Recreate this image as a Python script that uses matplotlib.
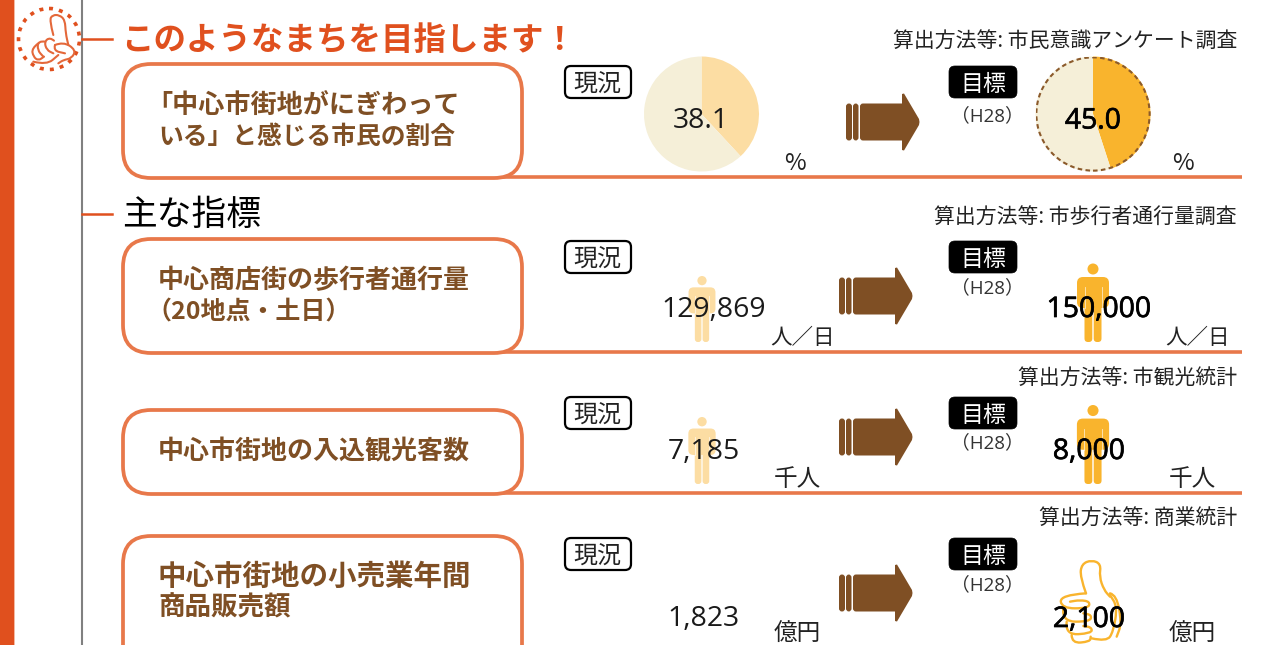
import matplotlib
matplotlib.use('Agg')
import matplotlib.pyplot as plt
import matplotlib.patheffects as pe
from matplotlib.patches import FancyBboxPatch, Circle, PathPatch, Rectangle
from matplotlib.path import Path

plt.rcParams['font.family'] = ['Noto Sans CJK JP', 'DejaVu Sans']
NUM_FONT = ['Open Sans', 'Noto Sans CJK JP']

# -----------------------------
# Data
# -----------------------------
main_title = 'このようなまちを目指します！'
sub_title = '主な指標'
row_lines = [['「中心市街地がにぎわって', 'いる」と感じる市民の割合'],
             ['中心商店街の歩行者通行量', '（20地点・土日）'],
             ['中心市街地の入込観光客数'],
             ['中心市街地の小売業年間', '商品販売額']]
methods = ['算出方法等: 市民意識アンケート調査',
           '算出方法等: 市歩行者通行量調査',
           '算出方法等: 市観光統計',
           '算出方法等: 商業統計']
current_values = ['38.1', '129,869', '7,185', '1,823']
target_values = ['45.0', '150,000', '8,000', '2,100']
units = ['%', '人／日', '千人', '億円']
pie_current = [38.1, 61.9]
pie_target = [45.0, 55.0]

ORANGE = '#E0501E'
BOX = '#E8784A'
BROWN = '#7F4F24'
LIGHT = '#FCDDA3'
AMBER = '#F9B42D'
CREAM = '#F5EFD8'

W, H = 1262, 645
fig = plt.figure(figsize=(W / 100, H / 100), dpi=100)
ax = fig.add_axes([0, 0, 1, 1])
ax.set_xlim(0, W)
ax.set_ylim(H, 0)
ax.axis('off')


def smooth(points, color, lw, x0=0, y0=0, zorder=3):
    # quadratic curves through the midpoints, points are in 3x zoom units
    p = [(x0 + a / 3, y0 + b / 3) for a, b in points]
    verts = [p[0]]
    codes = [Path.MOVETO]
    for i in range(1, len(p) - 1):
        mid = ((p[i][0] + p[i + 1][0]) / 2, (p[i][1] + p[i + 1][1]) / 2)
        verts += [p[i], mid]
        codes += [Path.CURVE3, Path.CURVE3]
    verts.append(p[-1])
    codes.append(Path.LINETO)
    ax.add_patch(PathPatch(Path(verts, codes), fc='none', ec=color, lw=lw,
                           capstyle='round', joinstyle='round', zorder=zorder))


def round_box(x, y, w, h, r, fc, ec, lw, zorder=2):
    ax.add_patch(FancyBboxPatch((x, y), w, h, boxstyle=f'round,pad=0,rounding_size={r}',
                                fc=fc, ec=ec, lw=lw, zorder=zorder))


def arrow(x, yc):
    # three stacked bands and the head
    round_box(x, yc - 18.5, 6, 37, 3, BROWN, 'none', 0)
    round_box(x + 7, yc - 18.5, 5.5, 37, 3, BROWN, 'none', 0)
    round_box(x + 14, yc - 18.5, 45, 37, 3, BROWN, 'none', 0)
    head = [(x + 56, yc - 28), (x + 58, yc - 28.5), (x + 73, yc - 3), (x + 73.5, yc),
            (x + 73, yc + 3), (x + 58, yc + 28.5), (x + 56, yc + 28), (x + 56, yc - 28)]
    ax.fill([a for a, b in head], [b for a, b in head], color=BROWN, lw=0, zorder=2)


def person(xc, bottom, height, color):
    s = height / 78.5
    ax.add_patch(Circle((xc, bottom - 73 * s), 5.5 * s, fc=color, ec='none', zorder=2))
    round_box(xc - 16 * s, bottom - 65 * s, 32 * s, 31 * s, 6 * s, color, 'none', 0)
    for dx in (-8.5, 0.7):
        round_box(xc + dx * s, bottom - 50 * s, 7.8 * s, 50 * s, 3.5 * s, color, 'none', 0)
    for dx in (-8.5, 8.5):
        ax.plot([xc + dx * s, xc + dx * s], [bottom - 55 * s, bottom - 34 * s],
                color='white', lw=0.6, alpha=0.7, zorder=2)


def pie(xc, yc, r, values, colors):
    pa = fig.add_axes([(xc - r) / W, 1 - (yc + r) / H, 2 * r / W, 2 * r / H])
    pa.pie(values, colors=colors, startangle=90, counterclock=False, radius=1)
    pa.set_xlim(-1, 1)
    pa.set_ylim(-1, 1)
    pa.patch.set_alpha(0)
    return pa


heavy = [pe.withStroke(linewidth=0.5, foreground='black')]

# -----------------------------
# Frame and headings
# -----------------------------
ax.add_patch(Rectangle((0, 0), 14, H, fc=ORANGE, ec='none'))
ax.add_patch(Rectangle((14, 0), 1.2, H, fc='#F3B9A2', ec='none'))
ax.plot([82, 82], [0, H], color='#808080', lw=1.5)
ax.plot([82, 112], [39, 39], color=ORANGE, lw=1.8)
ax.plot([82, 112], [214, 214], color=ORANGE, lw=1.8)

ax.text(121, 40.5, main_title, fontsize=23.4, fontweight='bold', color=ORANGE, va='center')
ax.text(122, 215, sub_title, fontsize=25, color='black', va='center')

# pointing hand icon
ax.add_patch(Circle((49, 39), 30.5, fc='white', ec=ORANGE, lw=2.6,
                    ls=(0, (1.1, 1.7)), zorder=4))
for pts in ([(160, 105), (148, 60), (158, 45), (178, 45), (195, 60), (197, 100), (205, 135)],
            [(162, 122), (150, 112), (133, 125), (140, 150), (160, 160)],
            [(135, 125), (115, 122), (112, 150), (130, 170)],
            [(115, 130), (95, 145), (100, 170), (115, 182), (132, 170)],
            [(165, 135), (190, 125), (228, 150), (215, 175), (190, 180), (175, 190)],
            [(165, 135), (160, 152), (195, 160)],
            [(100, 185), (140, 195), (175, 165)]):
    smooth(pts, '#E4683A', 1.5, zorder=5)

# -----------------------------
# Rows
# -----------------------------
box_top = [64, 239, 410, 536]
box_h = [114, 114, 84, 140]
rule_y = [177, 352, 493, None]
method_y = [42, 218, 378, 518]
badge_y = [66, 241, 397, 538]
h28_y = [116, 288, 443, 585]
line_x = [[146, 158], [158, 146], [158], [158, 158]]
line_y = [[106, 137], [281, 312], [452], [577, 608]]
line_size = [[18.8, 17.8], [18.7, 18], [18.7], [20.5, 19.1]]
arrow_x = [846, 839, 839, 839]
arrow_y = [122, 296, 437, 593]
cur_xy = [None, (714, 310), (704, 452), (704, 619)]
tgt_xy = [None, (1099, 310), (1089, 452), (1089, 620)]
unit_cur_xy = [(795, 164), (803, 338), (797, 479), (797, 634)]
unit_tgt_xy = [(1183, 164), (1198, 338), (1192, 479), (1192, 634)]
unit_size = [17, 15.5, 17, 17]

for i in range(4):
    round_box(123, box_top[i], 399, box_h[i], 28, 'white', BOX, 2.7)
    if rule_y[i] is not None:
        ax.plot([495, 1242], [rule_y[i], rule_y[i]], color=BOX, lw=2.6, zorder=1, solid_capstyle='butt')
    for j, line in enumerate(row_lines[i]):
        ax.text(line_x[i][j], line_y[i][j], line, fontsize=line_size[i][j], fontweight='bold',
                color=BROWN, va='center', zorder=3)
    ax.text(1237, method_y[i], methods[i], fontsize=15, color='#222222', ha='right', va='center')

    round_box(565, badge_y[i], 66, 32, 6, 'white', 'black', 1.6)
    ax.text(597, badge_y[i] + 18.5, '現況', fontsize=17.3, color='#222222', ha='center', va='center', zorder=3)
    round_box(949, badge_y[i], 68, 32, 6, 'black', 'black', 0.5)
    ax.text(983, badge_y[i] + 18.5, '目標', fontsize=16.5, color='white', ha='center', va='center', zorder=3)
    ax.text(987, h28_y[i], '（H28）', fontsize=13.5, color='#333333', ha='center', va='center',
            family=NUM_FONT)

    arrow(arrow_x[i], arrow_y[i])

# pictograms behind the numbers
person(702, 342, 66, LIGHT)
person(1093, 342, 78.5, AMBER)
person(702, 484, 67, LIGHT)
person(1093, 484, 79, AMBER)

# thumbs up icon
for pts in ([(258, 160), (240, 110), (245, 72), (275, 60), (303, 72), (298, 110), (312, 150), (330, 170)],
            [(330, 160), (350, 165), (365, 250), (350, 290)],
            [(258, 160), (180, 165), (185, 205), (265, 205), (270, 185), (240, 180), (210, 185)],
            [(190, 205), (185, 245), (270, 245), (275, 225), (250, 220)],
            [(200, 245), (195, 285), (275, 280), (275, 262), (250, 258)],
            [(215, 285), (215, 310), (270, 305), (272, 290)],
            [(275, 295), (320, 305), (340, 275), (352, 200), (330, 165)]):
    smooth(pts, AMBER, 1.7, x0=1000, y0=540)

for i in range(4):
    if i > 0:
        ax.text(cur_xy[i][0], cur_xy[i][1], current_values[i], fontsize=20.4, color='#1a1a1a',
                ha='center', va='center', zorder=6, family=NUM_FONT)
        ax.text(tgt_xy[i][0], tgt_xy[i][1], target_values[i], fontsize=20.4, color='black',
                ha='center', va='center', zorder=6, family=NUM_FONT, path_effects=heavy)
    ax.text(unit_cur_xy[i][0], unit_cur_xy[i][1], units[i], fontsize=unit_size[i], color='#222222',
            ha='center', va='center', zorder=6)
    ax.text(unit_tgt_xy[i][0], unit_tgt_xy[i][1], units[i], fontsize=unit_size[i], color='#222222',
            ha='center', va='center', zorder=6)

# -----------------------------
# Pies, each with its number on top
# -----------------------------
pa = pie(701.5, 114, 57.5, pie_current, [LIGHT, CREAM])
pa.text(-0.02, -0.13, current_values[0], fontsize=20.4, color='#1a1a1a', ha='center', va='center',
        family=NUM_FONT)
pb = pie(1093, 114, 57.5, pie_target, [AMBER, CREAM])
pb.add_patch(Circle((0, 0), 0.985, fc='none', ec='#8B5A2B', lw=1.5, ls=(0, (2.2, 1.6))))
pb.text(0, -0.13, target_values[0], fontsize=20.4, color='black', ha='center', va='center',
        family=NUM_FONT, path_effects=heavy)

plt.savefig('out.png', dpi=100)
